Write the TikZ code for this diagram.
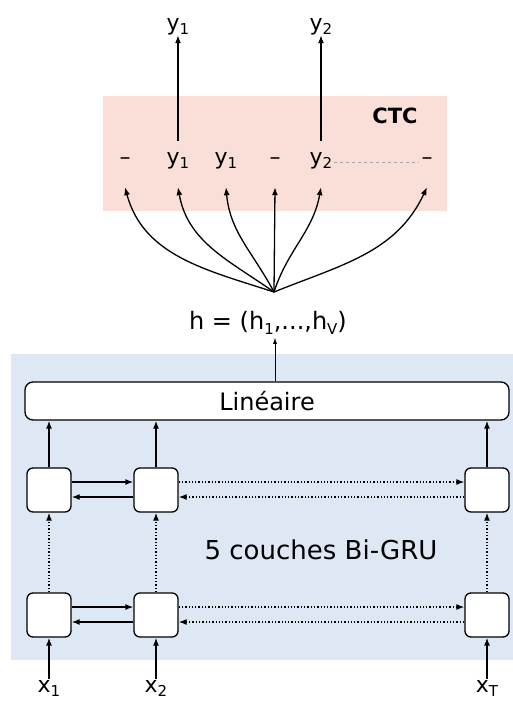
\documentclass[tikz,border=0pt]{standalone}
\usepackage{fontspec}
\setmainfont{DejaVu Sans}
\usetikzlibrary{arrows.meta}
\definecolor{ctcpink}{RGB}{250,222,216}
\definecolor{grublue}{RGB}{221,232,244}
\newcommand{\lowidx}[1]{\raisebox{-0.35ex}{\fontsize{15}{15}\selectfont #1}}
\tikzset{
  >={Latex[length=8pt,width=6pt]},
  lbl/.style={font=\fontsize{22}{26}\selectfont, inner sep=2pt, text height=0.75em, text depth=0.25em},
  cell/.style={draw, line width=1.3pt, rounded corners=6pt, fill=white, minimum width=44pt, minimum height=44pt},
  link/.style={line width=1.3pt},
}
\begin{document}
\begin{tikzpicture}[x=1pt,y=-1pt]
\useasboundingbox (0,0) rectangle (513,702);
\fill[ctcpink] (103,96) rectangle (447,211);
\fill[grublue] (11,354) rectangle (513,660);
% CTC
\node[font=\fontsize{21}{25}\selectfont\bfseries] (ctc) at (395,116) {CTC};
\node[lbl] (s1) at (125,162) {–};
\node[lbl] (s2) at (178,162) {y\lowidx{1}};
\node[lbl] (s3) at (226,162) {y\lowidx{1}};
\node[lbl] (s4) at (275,162) {–};
\node[lbl] (s5) at (321,162) {y\lowidx{2}};
\node[lbl] (s6) at (427,162) {–};
\node[lbl] (o1) at (178,28) {y\lowidx{1}};
\node[lbl] (o2) at (321,28) {y\lowidx{2}};
\draw[link,->] ([yshift=14pt]s2.north) -- (o1.south);
\draw[link,->] ([yshift=14pt]s5.north) -- (o2.south);
\draw[gray!70,dashed,thin] (s5.east) -- (s6.west);
% sorties
\node[font=\fontsize{24}{28}\selectfont] (hl) at (268,323) {h = (h\lowidx{1},...,h\lowidx{V})};
\coordinate (fan) at (274,292);
\draw[link,->] (fan) to[out=162,in=-75] ([yshift=-18pt]s1.south);
\draw[link,->] (fan) to[out=145,in=-80] ([yshift=-18pt]s2.south);
\draw[link,->] (fan) to[out=118,in=-85] ([yshift=-18pt]s3.south);
\draw[link,->] (fan) -- ([yshift=-18pt]s4.south);
\draw[link,->] (fan) to[out=72,in=-100] ([yshift=-18pt]s5.south);
\draw[link,->] (fan) to[out=22,in=-115] ([yshift=-18pt]s6.south);
% GRU
\node[draw, line width=1.3pt, rounded corners=8pt, fill=white, minimum width=484pt, minimum height=38pt,
  font=\fontsize{24}{28}\selectfont] (lin) at (267,401) {Linéaire};
\draw[->, >={Latex[length=6pt,width=4pt]}] (lin.north -| hl.south) ++(7,0) coordinate (l0) -- (l0 |- hl.south);
\node[cell] (a1) at (49,490) {};
\node[cell] (a2) at (156,490) {};
\node[cell] (aT) at (487,490) {};
\node[cell] (b1) at (49,615) {};
\node[cell] (b2) at (156,615) {};
\node[cell] (bT) at (487,615) {};
\node[font=\fontsize{26}{30}\selectfont] (nb) at (321,550) {5 couches Bi-GRU};
\foreach \r in {a,b}{
  \draw[link,->] ([yshift=8pt]\r1.east) -- ([yshift=8pt]\r2.west);
  \draw[link,->] ([yshift=-7pt]\r2.west) -- ([yshift=-7pt]\r1.east);
  \draw[link,dotted,->] ([yshift=8pt]\r2.east) -- ([yshift=8pt]\r T.west);
  \draw[link,dotted,->] ([yshift=-7pt]\r T.west) -- ([yshift=-7pt]\r2.east);
}
\foreach \c in {1,2,T}{
  \draw[link,dotted,->] (b\c.north) -- (a\c.south);
  \draw[link,->] (a\c.north) -- (a\c.north |- lin.south);
}
\node[lbl] (x1) at (49,690) {x\lowidx{1}};
\node[lbl] (x2) at (156,690) {x\lowidx{2}};
\node[lbl] (xT) at (487,690) {x\lowidx{T}};
\draw[link,->] ([yshift=4pt]x1.north) -- (b1.south);
\draw[link,->] ([yshift=4pt]x2.north) -- (b2.south);
\draw[link,->] ([yshift=4pt]xT.north) -- (bT.south);
\end{tikzpicture}
\end{document}
